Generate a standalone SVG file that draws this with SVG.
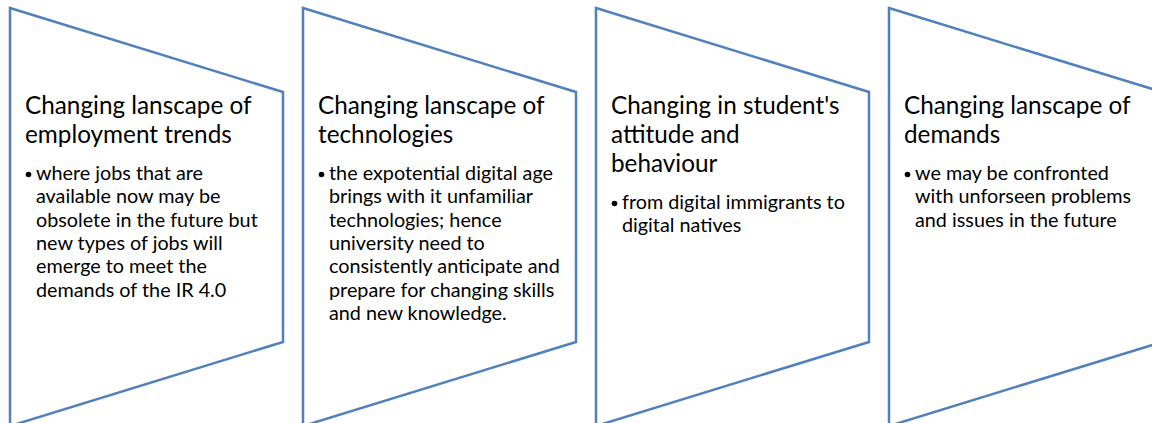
<svg xmlns="http://www.w3.org/2000/svg" width="1152" height="423" viewBox="0 0 1152 423">
<style>
.shape{fill:#ffffff;stroke:#4f81bd;stroke-width:2.5;stroke-linejoin:miter}
.t{font-family:Lato,"Open Sans","Liberation Sans",sans-serif;font-size:24.3px;fill:#000}
.b{font-family:Lato,"Open Sans","Liberation Sans",sans-serif;font-size:19.8px;fill:#000}
.dot{fill:#000}
</style>
<rect width="1152" height="423" fill="#ffffff"/>
<g id="node1">
<path class="shape" d="M10,8 L283,92 L283,342 L10,426 Z"/>
<text class="t" x="25" y="114.3">Changing lanscape of</text>
<text class="t" x="25" y="143.3">employment trends</text>
<circle class="dot" cx="28.5" cy="174.5" r="2.8"/>
<text class="b" x="36" y="180">where jobs that are</text>
<text class="b" x="36" y="203.3">available now may be</text>
<text class="b" x="36" y="226.7">obsolete in the future but</text>
<text class="b" x="36" y="250">new types of jobs will</text>
<text class="b" x="36" y="273.3">emerge to meet the</text>
<text class="b" x="36" y="296.7">demands of the IR 4.0</text>
</g>
<g id="node2">
<path class="shape" d="M303,8 L576,92 L576,342 L303,426 Z"/>
<text class="t" x="318" y="114.3">Changing lanscape of</text>
<text class="t" x="318" y="143.3">technologies</text>
<circle class="dot" cx="321.5" cy="174.5" r="2.8"/>
<text class="b" x="329" y="180">the expotential digital age</text>
<text class="b" x="329" y="203.3">brings with it unfamiliar</text>
<text class="b" x="329" y="226.7">technologies; hence</text>
<text class="b" x="329" y="250">university need to</text>
<text class="b" x="329" y="273.3">consistently anticipate and</text>
<text class="b" x="329" y="296.7">prepare for changing skills</text>
<text class="b" x="329" y="320">and new knowledge.</text>
</g>
<g id="node3">
<path class="shape" d="M596,8 L869,92 L869,342 L596,426 Z"/>
<text class="t" x="611" y="114.3">Changing in student's</text>
<text class="t" x="611" y="143.3">attitude and</text>
<text class="t" x="611" y="172.3">behaviour</text>
<circle class="dot" cx="614.5" cy="203.5" r="2.8"/>
<text class="b" x="622" y="209">from digital immigrants to</text>
<text class="b" x="622" y="232.3">digital natives</text>
</g>
<g id="node4">
<path class="shape" d="M889,8 L1162,92 L1162,342 L889,426 Z"/>
<text class="t" x="904" y="114.3">Changing lanscape of</text>
<text class="t" x="904" y="143.3">demands</text>
<circle class="dot" cx="907.5" cy="174.5" r="2.8"/>
<text class="b" x="915" y="180">we may be confronted</text>
<text class="b" x="915" y="203.3">with unforseen problems</text>
<text class="b" x="915" y="226.7">and issues in the future</text>
</g>
<g id="connectors"></g>
</svg>
